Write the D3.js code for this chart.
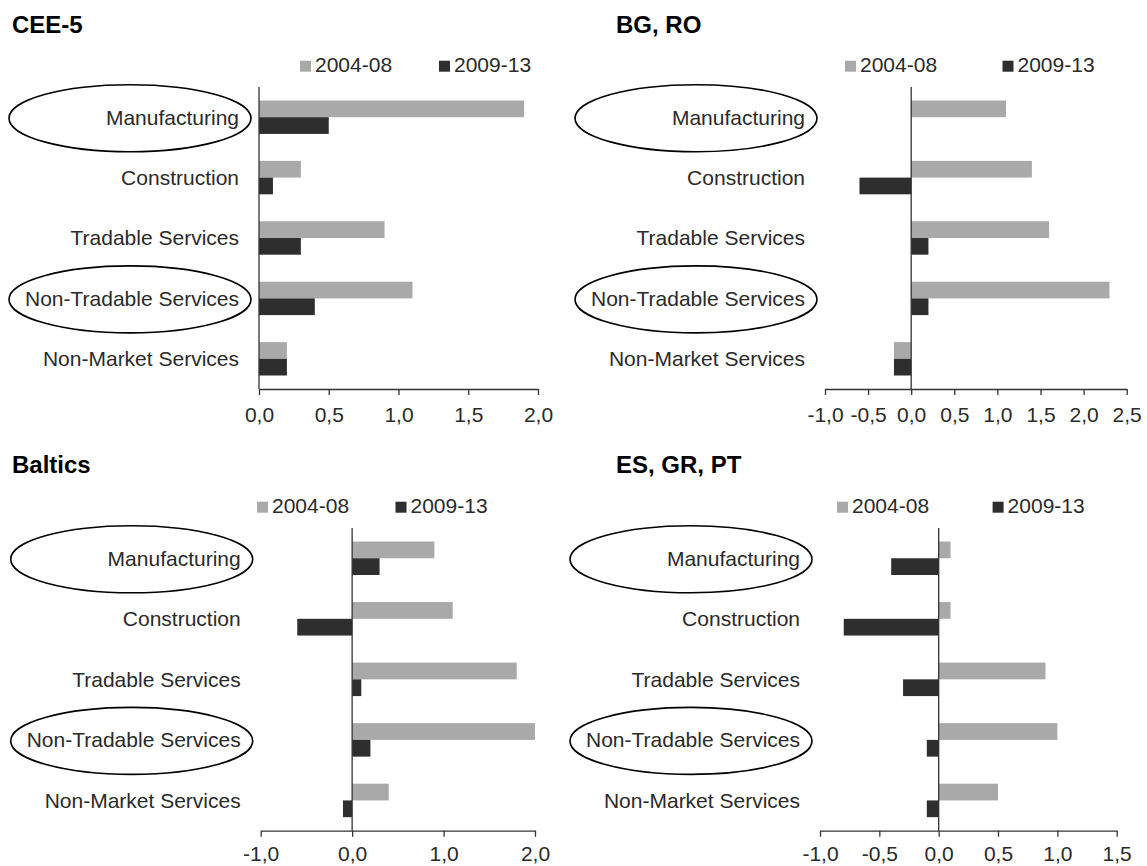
<!DOCTYPE html>
<html>
<head>
<meta charset="utf-8">
<script src="https://cdn.jsdelivr.net/npm/d3@7"></script>
<style>
  html, body { margin: 0; padding: 0; background: #fff; }
  svg { display: block; }
  text { font-family: "Liberation Sans", Arial, sans-serif; }
</style>
</head>
<body>
<svg id="chart" width="1147" height="866"></svg>
<script>
// ---------------- DATA ----------------
const categories = ["Manufacturing", "Construction", "Tradable Services", "Non-Tradable Services", "Non-Market Services"];
const seriesNames = ["2004-08", "2009-13"];
const highlighted = ["Manufacturing", "Non-Tradable Services"];
const panelTitles = ["CEE-5", "BG, RO", "Baltics", "ES, GR, PT"];

const cee5_2004_08    = [1.9, 0.3, 0.9, 1.1, 0.2];
const cee5_2009_13    = [0.5, 0.1, 0.3, 0.4, 0.2];
const bgro_2004_08    = [1.1, 1.4, 1.6, 2.3, -0.2];
const bgro_2009_13    = [0.0, -0.6, 0.2, 0.2, -0.2];
const baltics_2004_08 = [0.9, 1.1, 1.8, 2.0, 0.4];
const baltics_2009_13 = [0.3, -0.6, 0.1, 0.2, -0.1];
const esgrpt_2004_08  = [0.1, 0.1, 0.9, 1.0, 0.5];
const esgrpt_2009_13  = [-0.4, -0.8, -0.3, -0.1, -0.1];

const cee5Ticks    = [0, 0.5, 1.0, 1.5, 2.0];
const bgroTicks    = [-1.0, -0.5, 0, 0.5, 1.0, 1.5, 2.0, 2.5];
const balticsTicks = [-1.0, 0, 1.0, 2.0];
const esgrptTicks  = [-1.0, -0.5, 0, 0.5, 1.0, 1.5];

// ---------------- LAYOUT ----------------
const layout = [
  { x0: 259,   x1: 538,    top: 87,  bottom: 389,   titleX: 12,  titleY: 33,  legX: [300, 439],    tickPad: 12 },
  { x0: 825,   x1: 1126.7, top: 87,  bottom: 389,   titleX: 616, titleY: 33,  legX: [845, 1002.5], tickPad: 12 },
  { x0: 260.7, x1: 535,    top: 528, bottom: 830.7, titleX: 12,  titleY: 473, legX: [257, 395.5],  tickPad: 9 },
  { x0: 820,   x1: 1116.7, top: 528, bottom: 830.7, titleX: 616, titleY: 473, legX: [837, 992.6],  tickPad: 9 }
];

const panels = [
  { values: [cee5_2004_08, cee5_2009_13],       ticks: cee5Ticks },
  { values: [bgro_2004_08, bgro_2009_13],       ticks: bgroTicks },
  { values: [baltics_2004_08, baltics_2009_13], ticks: balticsTicks },
  { values: [esgrpt_2004_08, esgrpt_2009_13],   ticks: esgrptTicks }
];

const colors = { "2004-08": "#a9a9a9", "2009-13": "#2e2e2e" };
const textColor = "#2a2a2a";
const axisColor = "#333333";
const fontSize = 21;

const locale = d3.formatLocale({ decimal: ",", thousands: ".", grouping: [3], currency: ["", ""], minus: "-" });
const fmt = locale.format(".1f");

const svg = d3.select("#chart");
svg.append("rect").attr("width", 1147).attr("height", 866).attr("fill", "#fff");

panels.forEach((p, i) => {
  const L = layout[i];
  const g = svg.append("g");
  const ticks = p.ticks;

  const x = d3.scaleLinear()
    .domain([ticks[0], ticks[ticks.length - 1]])
    .range([L.x0, L.x1]);

  const y = d3.scaleBand()
    .domain(categories)
    .range([L.top, L.bottom])
    .paddingInner(0.447)
    .paddingOuter(0.2235);

  const ySub = d3.scaleBand()
    .domain(seriesNames)
    .range([0, y.bandwidth()]);

  // Title
  g.append("text")
    .attr("x", L.titleX).attr("y", L.titleY)
    .attr("font-size", 24).attr("font-weight", "bold")
    .attr("fill", "#000")
    .text(panelTitles[i]);

  // Legend
  seriesNames.forEach((s, k) => {
    const lx = L.legX[k];
    const base = L.top - 15.3;
    g.append("rect")
      .attr("x", lx).attr("y", base - 11)
      .attr("width", 11).attr("height", 11)
      .attr("fill", colors[s]);
    g.append("text")
      .attr("x", lx + 15).attr("y", base)
      .attr("font-size", fontSize).attr("fill", textColor)
      .text(s);
  });

  // Bars
  seriesNames.forEach((s, k) => {
    g.append("g").selectAll("rect")
      .data(categories.map((c, j) => ({ c, v: p.values[k][j] })))
      .join("rect")
      .attr("x", d => Math.min(x(0), x(d.v)))
      .attr("width", d => Math.abs(x(d.v) - x(0)))
      .attr("y", d => y(d.c) + ySub(s))
      .attr("height", ySub.bandwidth())
      .attr("fill", colors[s]);
  });

  // X axis
  const xAxis = d3.axisBottom(x)
    .tickValues(ticks)
    .tickFormat(fmt)
    .tickSize(6)
    .tickSizeOuter(0)
    .tickPadding(L.tickPad);
  const ax = g.append("g")
    .attr("transform", `translate(0,${L.bottom})`)
    .call(xAxis);
  ax.select(".domain").attr("stroke", axisColor).attr("stroke-width", 1.3);
  ax.selectAll(".tick line").attr("stroke", axisColor).attr("stroke-width", 1.3);
  ax.selectAll(".tick text")
    .attr("font-size", fontSize)
    .attr("font-family", "Liberation Sans, Arial, sans-serif")
    .attr("fill", textColor);

  // Vertical zero axis
  g.append("line")
    .attr("x1", x(0)).attr("x2", x(0))
    .attr("y1", L.top).attr("y2", L.bottom)
    .attr("stroke", axisColor).attr("stroke-width", 1.3);

  // Category labels
  const labelEnd = L.x0 - 20;
  g.append("g").selectAll("text")
    .data(categories)
    .join("text")
    .attr("x", labelEnd)
    .attr("y", c => y(c) + y.bandwidth() / 2)
    .attr("dy", "0.35em")
    .attr("text-anchor", "end")
    .attr("font-size", fontSize)
    .attr("fill", textColor)
    .text(c => c);

  // Highlight ellipses
  g.append("g").selectAll("ellipse")
    .data(highlighted)
    .join("ellipse")
    .attr("cx", labelEnd - 109)
    .attr("cy", c => y(c) + y.bandwidth() / 2 + 1)
    .attr("rx", 121)
    .attr("ry", 33.5)
    .attr("fill", "none")
    .attr("stroke", "#000")
    .attr("stroke-width", 1.6);
});
</script>
</body>
</html>
